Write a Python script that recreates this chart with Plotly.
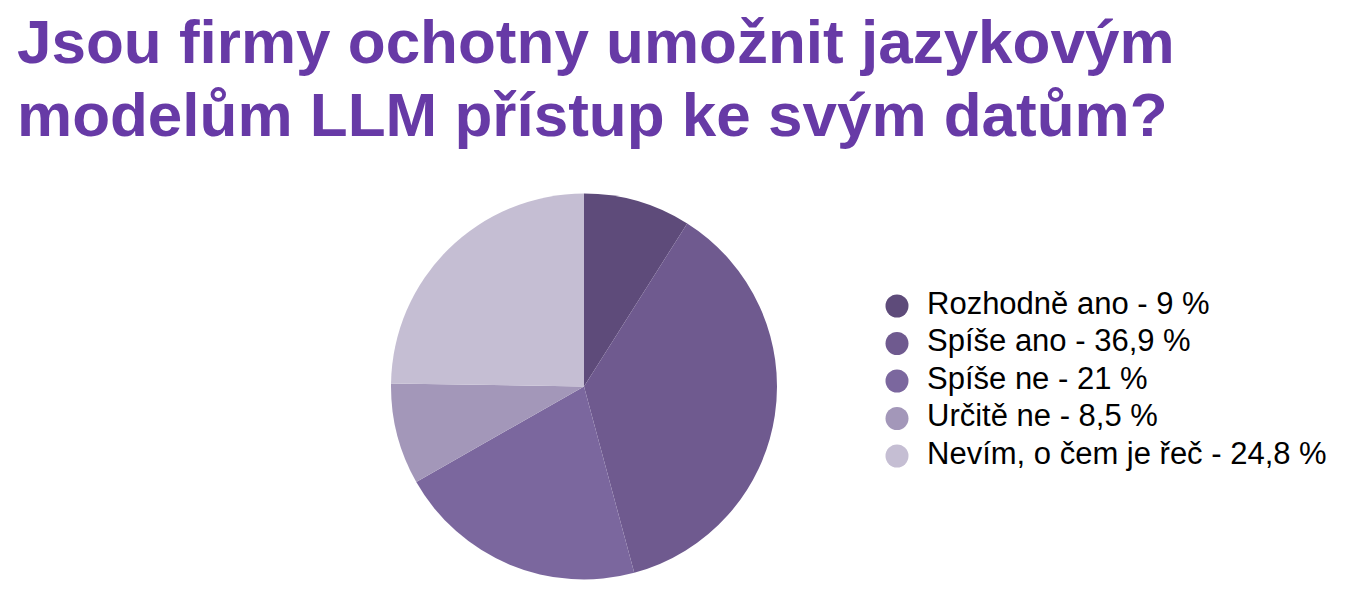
import plotly.graph_objects as go

# survey answers and shares (%)
odpovedi = ["Rozhodně ano", "Spíše ano", "Spíše ne", "Určitě ne", "Nevím, o čem je řeč"]
podily = [9, 36.9, 21, 8.5, 24.8]
barvy = ["#5e4b7a", "#6f5a8f", "#7b679e", "#a397b9", "#c5bed3"]

titulek = ["Jsou firmy ochotny umožnit jazykovým", "modelům LLM přístup ke svým datům?"]

W, H = 1348, 600
OX, OY = 8, 8  # page body margin offset


def px_x(x):
    return (x - OX) / W


def px_y(y):
    return 1 - (y - OY) / H


def popisek(nazev, hodnota):
    return nazev + " - " + ("%g" % hodnota).replace(".", ",") + " %"


popisky = [popisek(n, v) for n, v in zip(odpovedi, podily)]
radky = list(range(len(odpovedi)))

fig = go.Figure()

fig.add_trace(go.Pie(
    labels=odpovedi,
    values=podily,
    sort=False,
    direction="clockwise",
    rotation=0,
    textinfo="none",
    marker=dict(colors=barvy, line=dict(width=0)),
    showlegend=False,
    domain=dict(x=[px_x(391), px_x(777)], y=[px_y(580), px_y(193)]),
))

# hand-made legend with big circles
lx0, lx1 = 880, W + OX
fig.add_trace(go.Scatter(
    x=[(897 - lx0) / (lx1 - lx0)] * len(radky),
    y=radky,
    mode="markers",
    marker=dict(size=23, color=barvy, line=dict(width=0)),
    xaxis="x2", yaxis="y2",
    showlegend=False, hoverinfo="skip",
))
fig.add_trace(go.Scatter(
    x=[(927 - lx0) / (lx1 - lx0)] * len(radky),
    y=radky,
    mode="text",
    text=popisky,
    textposition="middle right",
    textfont=dict(family="Liberation Sans, Arial", size=31, color="#000000"),
    xaxis="x2", yaxis="y2",
    showlegend=False, hoverinfo="skip",
))

fig.update_layout(
    width=W, height=H,
    margin=dict(l=0, r=0, t=0, b=0),
    paper_bgcolor="white",
    plot_bgcolor="rgba(0,0,0,0)",
    xaxis2=dict(domain=[px_x(lx0), 1], range=[0, (W - lx0 + OX) / (lx1 - lx0)],
                visible=False, fixedrange=True),
    yaxis2=dict(domain=[px_y(474.75), px_y(287.25)], range=[4.5, -0.5],
                visible=False, fixedrange=True),
)

for i, radek in enumerate(titulek):
    fig.add_annotation(
        text="<b>" + radek + "</b>",
        xref="paper", yref="paper",
        x=px_x(7 + OX), y=px_y(-3 + OY + i * 73),
        xanchor="left", yanchor="top",
        showarrow=False,
        font=dict(family="Liberation Sans, Arial", size=62, color="#673aa6"),
    )

fig.write_html("out.html")
